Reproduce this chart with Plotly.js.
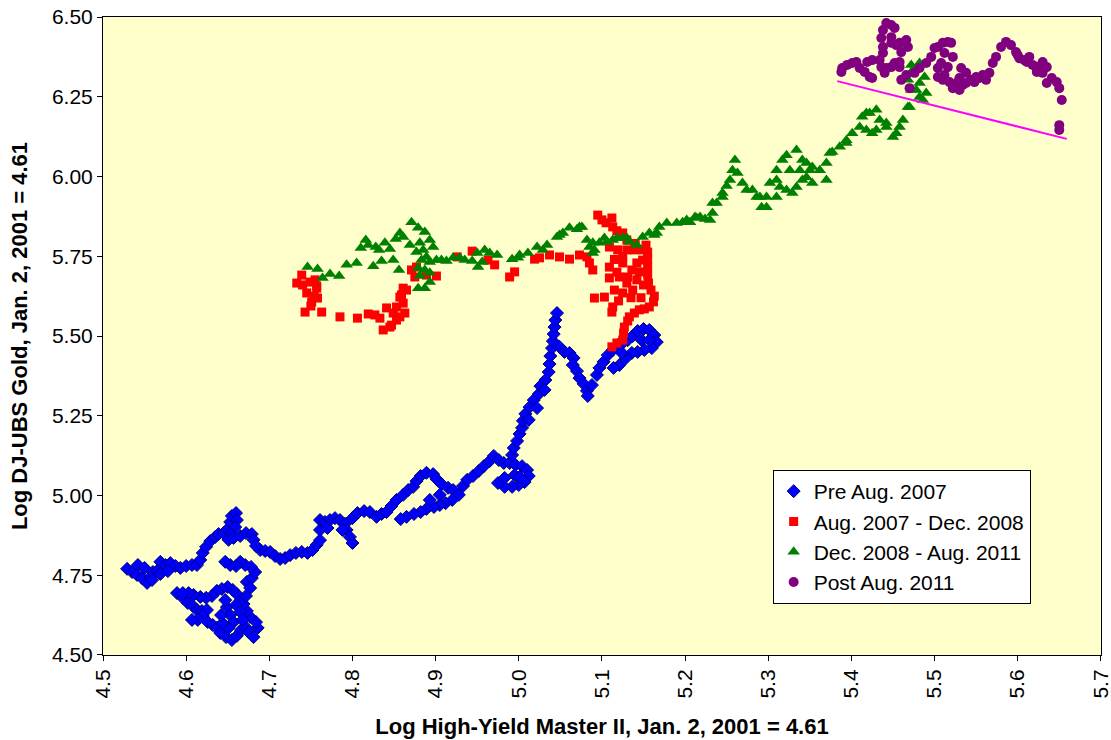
<!DOCTYPE html>
<html>
<head>
<meta charset="utf-8">
<script src="https://cdn.plot.ly/plotly-3.0.1.min.js"></script>
<style>
html,body{margin:0;padding:0;background:#fff;}
#chart{width:1111px;height:740px;}
</style>
</head>
<body>
<div id="chart"></div>
<script>
// Series names
const seriesNames = ["Pre Aug. 2007", "Aug. 2007 - Dec. 2008", "Dec. 2008 - Aug. 2011", "Post Aug. 2011"];

// Axis tick values
const xTicks = [4.5, 4.6, 4.7, 4.8, 4.9, 5.0, 5.1, 5.2, 5.3, 5.4, 5.5, 5.6, 5.7];
const yTicks = [4.50, 4.75, 5.00, 5.25, 5.50, 5.75, 6.00, 6.25, 6.50];

// Pre Aug. 2007 (x = Log High-Yield Master II, y = Log DJ-UBS Gold)
const preX = [4.589,4.596,4.602,4.608,4.613,4.619,4.625,4.620,4.614,4.607,4.626,4.632,4.637,4.641,4.648,4.655,4.661,4.666,4.671,4.675,4.681,4.686,4.684,4.677,4.673,4.669,4.666,4.661,4.656,4.650,4.643,4.637,4.631,4.624,4.617,4.609,4.603,4.596,
4.649,4.653,4.657,4.651,4.644,4.642,4.647,4.660,4.665,4.668,4.673,4.679,4.683,4.678,4.671,4.665,4.660,4.653,4.647,4.677,4.672,
4.529,4.535,4.541,4.547,4.553,4.557,4.560,4.566,4.569,4.575,4.581,4.587,4.593,4.600,4.607,4.613,4.617,4.620,4.624,4.629,4.635,4.639,4.645,4.650,4.653,4.655,4.660,4.661,4.659,4.654,4.651,4.657,4.665,4.672,4.679,4.681,4.684,4.689,4.695,4.701,4.707,4.713,4.719,4.725,4.732,4.739,4.746,4.542,4.550,4.559,4.569,4.578,
4.752,4.757,4.761,4.761,4.761,4.767,4.773,4.779,4.785,4.791,4.793,4.797,4.800,4.788,4.770,4.800,4.806,4.814,4.821,4.829,4.835,4.841,4.847,4.853,4.861,4.867,4.873,4.877,4.882,4.889,4.897,4.901,4.907,4.915,4.921,4.928,4.920,4.912,4.905,4.898,4.889,4.882,4.874,4.865,4.858,4.893,4.905,
4.933,4.938,4.945,4.952,4.958,4.965,4.970,4.976,4.982,4.989,4.996,5.004,5.010,5.012,5.007,5.000,4.992,4.983,4.975,4.983,4.995,5.001,
4.992,4.994,4.998,5.001,5.004,5.005,5.008,5.013,5.018,5.024,5.026,5.032,5.036,5.037,5.038,5.040,5.041,5.042,5.043,5.044,5.046,5.031,5.022,5.012,
5.049,5.055,5.061,5.066,5.065,5.070,5.073,5.078,5.082,5.083,5.088,5.094,5.097,5.102,5.107,5.113,5.119,5.125,5.131,5.137,5.143,5.150,5.157,5.163,5.166,5.160,5.151,5.143,5.136,5.129,5.121,5.114,5.124,5.148,5.157];
const preY = [4.694,4.679,4.663,4.654,4.641,4.638,4.641,4.622,4.610,4.610,4.603,4.594,4.585,4.569,4.556,4.547,4.560,4.578,4.588,4.572,4.556,4.585,4.603,4.619,4.638,4.660,4.672,4.691,4.704,4.713,4.707,4.701,4.685,4.679,4.682,4.688,4.694,4.694,
4.650,4.625,4.603,4.585,4.600,4.625,4.672,4.657,4.635,4.610,4.729,4.741,4.760,4.776,4.782,4.792,4.779,4.782,4.792,4.710,4.685,
4.770,4.760,4.751,4.741,4.726,4.745,4.760,4.766,4.792,4.782,4.788,4.779,4.773,4.779,4.782,4.782,4.798,4.820,4.839,4.857,4.870,4.879,4.882,4.895,4.917,4.936,4.945,4.923,4.901,4.879,4.861,4.867,4.873,4.882,4.879,4.861,4.842,4.829,4.826,4.823,4.810,4.801,4.804,4.813,4.820,4.823,4.820,4.782,4.773,4.735,4.754,4.763,
4.829,4.845,4.860,4.892,4.923,4.917,4.923,4.929,4.923,4.911,4.892,4.870,4.851,4.892,4.898,4.929,4.945,4.951,4.948,4.933,4.942,4.948,4.967,4.986,5.002,5.017,5.027,5.045,5.061,5.071,5.067,5.052,5.036,5.024,5.017,5.002,4.986,4.976,4.970,4.964,4.958,4.948,4.942,4.933,4.926,4.986,5.002,
5.030,5.049,5.061,5.077,5.092,5.108,5.124,5.111,5.102,5.102,5.096,5.092,5.080,5.061,5.042,5.033,5.027,5.027,5.039,5.055,5.064,5.058,
5.127,5.149,5.171,5.193,5.212,5.234,5.256,5.277,5.299,5.318,5.343,5.362,5.387,5.412,5.437,5.462,5.484,5.506,5.528,5.550,5.572,5.331,5.274,5.237,
5.466,5.450,5.447,5.431,5.409,5.390,5.368,5.350,5.328,5.312,5.346,5.378,5.400,5.419,5.440,5.456,5.472,5.478,5.487,5.500,5.516,5.522,5.519,5.503,5.481,5.462,5.456,5.450,5.447,5.431,5.409,5.400,5.447,5.487,5.487];

// Aug. 2007 - Dec. 2008
const crisisX = [5.112,5.118,5.125,5.126,5.127,5.131,5.133,5.139,5.145,5.151,5.157,5.162,5.163,5.159,5.156,5.155,5.155,5.155,5.155,5.153,5.149,5.149,5.145,5.142,5.142,5.139,5.137,5.136,5.131,5.130,5.130,5.130,5.125,5.125,5.125,5.121,5.119,5.115,5.113,5.113,5.112,5.112,5.109,5.109,5.109,5.103,5.100,5.095,5.091,5.089,5.085,5.082,
5.118,5.135,5.147,5.120,5.140,5.125,5.150,5.115,5.105,5.118,
5.073,5.061,5.049,5.037,5.025,5.019,4.995,4.989,4.971,4.963,4.944,4.926,4.901,4.889,4.877,4.875,4.871,
4.865,4.861,4.859,4.857,4.861,4.853,4.863,4.849,4.857,4.853,4.847,4.845,4.837,4.841,4.833,4.827,4.819,4.806,4.785,4.763,4.743,4.751,4.758,4.757,4.745,4.740,4.733,4.739,4.749,4.757,4.755,4.750,4.754];
const crisisY = [5.466,5.478,5.487,5.509,5.528,5.547,5.560,5.572,5.582,5.585,5.591,5.607,5.625,5.644,5.666,5.691,5.716,5.741,5.763,5.785,5.738,5.770,5.701,5.676,5.729,5.770,5.644,5.707,5.685,5.666,5.770,5.801,5.635,5.729,5.823,5.685,5.770,5.644,5.591,5.842,5.870,5.575,5.716,5.682,5.779,5.622,5.864,5.879,5.619,5.707,5.729,5.748,
5.700,5.620,5.620,5.610,5.790,5.750,5.660,5.740,5.855,5.830,
5.754,5.741,5.748,5.754,5.745,5.741,5.701,5.685,5.723,5.738,5.766,5.748,5.688,5.691,5.716,5.685,5.707,
5.644,5.650,5.629,5.622,5.603,5.591,5.572,5.572,5.560,5.550,5.534,5.528,5.519,5.588,5.556,5.566,5.569,5.556,5.560,5.575,5.575,5.607,5.619,5.650,5.635,5.660,5.666,5.691,5.669,5.657,5.676,5.594,5.625];

// Dec. 2008 - Aug. 2011
const recoveryX = [4.746,4.758,4.764,4.773,4.784,4.793,4.805,4.810,4.816,4.819,4.825,4.828,4.832,4.835,4.839,4.845,4.849,4.852,4.857,4.861,4.856,4.871,4.879,4.887,4.869,4.881,4.893,4.897,4.877,4.885,4.889,4.883,4.893,4.901,4.879,4.887,4.893,4.881,4.893,4.879,4.887,
4.907,4.913,4.921,4.929,4.935,4.944,4.950,4.959,4.965,4.951,4.956,4.974,4.992,4.999,5.001,5.011,5.022,5.029,5.034,5.046,5.053,5.061,5.070,5.076,5.082,5.085,5.091,5.097,5.103,5.113,5.125,5.133,5.142,5.149,5.157,5.163,5.169,5.178,5.190,5.197,5.206,5.212,
5.049,5.073,5.089,5.089,5.106,5.118,5.130,5.166,5.202,5.214,5.218,5.224,5.230,
5.233,5.233,5.238,5.245,5.245,5.250,5.254,5.257,5.260,5.263,5.269,5.274,5.281,5.286,5.290,5.292,5.298,5.298,5.302,5.310,5.310,5.310,5.314,5.317,5.322,5.322,5.326,5.329,5.334,5.334,5.338,5.341,5.341,5.346,5.346,5.350,5.353,5.353,5.362,5.370,5.370,5.374,5.377,5.386,5.394,5.394,5.401,5.410,5.413,5.418,5.418,5.422,5.425,5.430,5.430,5.434,5.442,5.442,5.450,5.454,5.458,5.462,5.468,5.470,5.472,5.468,5.474,5.482,5.478,5.482,5.488,5.490,5.486,5.482,5.472];
const recoveryY = [5.716,5.710,5.682,5.694,5.688,5.723,5.729,5.776,5.801,5.785,5.719,5.779,5.770,5.735,5.792,5.773,5.738,5.804,5.823,5.810,5.707,5.857,5.839,5.826,5.785,5.792,5.801,5.779,5.763,5.770,5.748,5.738,5.732,5.738,5.713,5.707,5.698,5.688,5.669,5.650,5.650,
5.738,5.735,5.745,5.745,5.738,5.735,5.760,5.770,5.760,5.716,5.732,5.754,5.741,5.745,5.754,5.760,5.779,5.770,5.785,5.810,5.823,5.839,5.835,5.842,5.801,5.779,5.770,5.792,5.807,5.801,5.807,5.795,5.785,5.810,5.823,5.817,5.842,5.854,5.854,5.857,5.857,5.873,
5.817,5.842,5.792,5.760,5.795,5.807,5.807,5.823,5.864,5.870,5.873,5.867,5.864,
5.886,5.917,5.917,5.948,5.936,5.970,5.989,6.020,6.052,6.011,5.980,5.958,5.958,5.936,5.936,5.904,5.904,5.936,5.980,5.989,6.020,5.936,5.967,6.052,5.958,6.067,6.020,5.948,5.967,6.083,6.020,5.989,6.052,6.042,5.998,6.020,6.030,5.980,6.020,6.042,5.989,6.074,6.077,6.093,6.114,6.105,6.136,6.155,6.187,6.199,6.146,6.199,6.136,6.209,6.146,6.177,6.168,6.155,6.124,6.136,6.155,6.177,6.218,6.218,6.271,6.303,6.334,6.356,6.271,6.293,6.312,6.262,6.240,6.249,6.350];

// Post Aug. 2011
const postX = [5.388,5.389,5.395,5.401,5.406,5.410,5.416,5.422,5.425,5.419,5.425,5.434,5.436,5.440,5.442,5.448,5.438,5.438,5.436,5.438,5.442,5.448,5.452,5.448,5.448,5.454,5.458,5.466,5.468,5.460,5.458,5.452,5.458,5.460,5.466,5.470,5.476,5.482,5.490,5.496,5.500,5.504,5.510,5.516,5.520,5.512,5.522,5.516,5.512,5.518,5.522,5.530,5.534,5.530,5.532,5.538,5.544,5.550,5.558,5.562,5.566,5.570,5.574,5.580,5.586,5.592,5.598,5.602,5.608,5.614,5.618,5.624,5.630,5.635,5.630,5.635,5.641,5.647,5.650,5.653,5.650,5.650,5.508,5.504,5.504,5.510,5.528,5.538,5.548,5.554,5.600,5.611,5.623];
const postY = [6.328,6.340,6.350,6.356,6.359,6.340,6.328,6.312,6.309,6.359,6.365,6.365,6.343,6.325,6.340,6.343,6.387,6.406,6.434,6.459,6.481,6.475,6.466,6.437,6.419,6.412,6.419,6.428,6.406,6.390,6.359,6.356,6.343,6.303,6.318,6.277,6.325,6.340,6.356,6.375,6.403,6.406,6.419,6.422,6.419,6.387,6.375,6.343,6.318,6.296,6.277,6.271,6.287,6.309,6.340,6.325,6.303,6.312,6.318,6.303,6.325,6.356,6.375,6.406,6.422,6.412,6.390,6.371,6.365,6.375,6.350,6.343,6.359,6.343,6.325,6.293,6.309,6.296,6.277,6.240,6.161,6.146,6.356,6.340,6.312,6.303,6.296,6.293,6.296,6.309,6.381,6.359,6.328];

// Trend line (endpoints)
const trendX = [5.383, 5.659];
const trendY = [6.299, 6.118];

const FONT = "Liberation Sans, Arial, Helvetica, sans-serif";

const traces = [
  {x: preX, y: preY, name: seriesNames[0], type: "scatter", mode: "markers",
   marker: {symbol: "diamond", size: 10, color: "#0000FF", line: {color: "#000080", width: 1}}},
  {x: crisisX, y: crisisY, name: seriesNames[1], type: "scatter", mode: "markers",
   marker: {symbol: "square", size: 9, color: "#FF0000", line: {width: 0}}},
  {x: recoveryX, y: recoveryY, name: seriesNames[2], type: "scatter", mode: "markers",
   marker: {symbol: "triangle-up", size: 11, color: "#008000", line: {width: 0}}},
  {x: postX, y: postY, name: seriesNames[3], type: "scatter", mode: "markers",
   marker: {symbol: "circle", size: 10, color: "#800080", line: {width: 0}}},
  {x: trendX, y: trendY, type: "scatter", mode: "lines", showlegend: false, hoverinfo: "skip",
   line: {color: "#FF00FF", width: 2}}
];

const layout = {
  width: 1111, height: 740,
  margin: {l: 103, r: 10, t: 17, b: 85},
  paper_bgcolor: "#FFFFFF",
  plot_bgcolor: "#FFFFCC",
  font: {family: FONT, size: 20, color: "#000000"},
  showlegend: true,
  legend: {
    x: 0.671, y: 0.29, xanchor: "left", yanchor: "top",
    bgcolor: "#FFFFFF", bordercolor: "#000000", borderwidth: 1,
    font: {family: FONT, size: 21, color: "#000000"},
    itemsizing: "trace", tracegroupgap: 0
  },
  xaxis: {
    range: [4.5, 5.7002], tickmode: "array", tickvals: xTicks,
    ticktext: xTicks.map(v => v.toFixed(1)),
    tickangle: -90, ticks: "outside", ticklen: 5, tickcolor: "#000000",
    ticklabeloverflow: "allow",
    showline: true, linecolor: "#000000", linewidth: 1, mirror: true,
    showgrid: false, zeroline: false, automargin: false,
    tickfont: {family: FONT, size: 21},
    title: {text: "Log High-Yield Master II, Jan. 2, 2001 = 4.61", standoff: 20,
            font: {family: FONT, size: 22, weight: "bold"}}
  },
  yaxis: {
    range: [4.4999, 6.5001], tickmode: "array", tickvals: yTicks,
    ticktext: yTicks.map(v => v.toFixed(2)),
    ticks: "outside", ticklen: 5, tickcolor: "#000000",
    ticklabeloverflow: "allow",
    showline: true, linecolor: "#000000", linewidth: 1, mirror: true,
    showgrid: false, zeroline: false, automargin: false,
    tickfont: {family: FONT, size: 21},
    title: {text: "Log DJ-UBS Gold, Jan. 2, 2001 = 4.61", standoff: 18,
            font: {family: FONT, size: 22, weight: "bold"}}
  }
};

Plotly.newPlot("chart", traces, layout, {displayModeBar: false, staticPlot: true});
</script>
</body>
</html>
